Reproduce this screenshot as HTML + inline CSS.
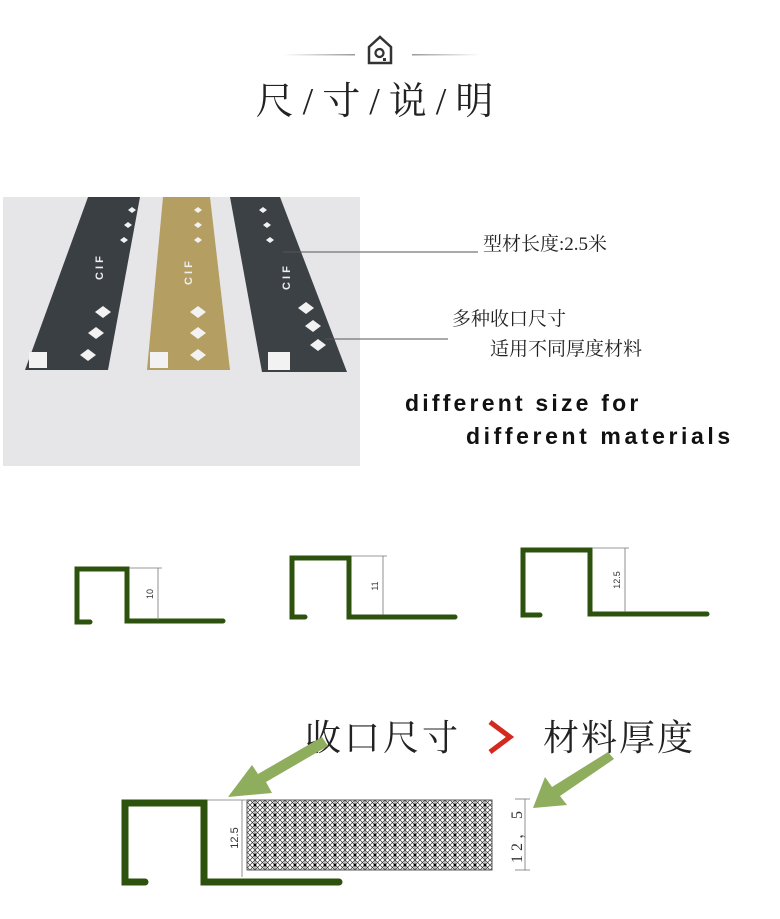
<!DOCTYPE html>
<html><head><meta charset="utf-8"><style>
body{margin:0;background:#fff;width:780px;height:919px;overflow:hidden}
svg{display:block}
.s{font-family:"Liberation Serif","Noto Serif CJK SC",serif}
</style></head><body>
<svg width="780" height="919" viewBox="0 0 780 919" xmlns="http://www.w3.org/2000/svg">
<defs>
<pattern id="hx" width="10" height="10" patternUnits="userSpaceOnUse">
<rect width="10" height="10" fill="#fff"/>
<path d="M0 0L10 10M10 0L0 10M5 0V10M0 5L5 0L10 5L5 10Z" stroke="#333" stroke-width="0.7" fill="none"/>
<circle cx="5" cy="5" r="1.4" fill="#000"/>
</pattern>
<linearGradient id="lg" x1="0" x2="1"><stop offset="0" stop-color="#fff"/><stop offset="1" stop-color="#999"/></linearGradient>
<linearGradient id="rg" x1="0" x2="1"><stop offset="0" stop-color="#999"/><stop offset="1" stop-color="#fff"/></linearGradient>
</defs>
<!-- header -->
<rect x="283" y="54" width="72" height="1.5" fill="url(#lg)"/>
<rect x="412" y="54" width="68" height="1.5" fill="url(#rg)"/>
<path d="M369 63V47L380 37L391 47V63Z" fill="none" stroke="#333" stroke-width="2.5"/>
<circle cx="379.5" cy="53" r="4" fill="none" stroke="#333" stroke-width="2.3"/>
<rect x="383" y="58" width="3" height="3" fill="#333"/>
<text x="379" y="114" class="s" font-size="38" text-anchor="middle" fill="#222" letter-spacing="9">尺/寸/说/明</text>
<!-- photo -->
<rect x="3" y="197" width="357" height="269" fill="#e6e6e8"/>
<polygon points="88,197 140,197 108,370 25,370" fill="#3a3f44"/>
<polygon points="163,197 210,197 230,370 147,370" fill="#b49e62"/>
<polygon points="230,197 280,197 347,372 262,372" fill="#3c4146"/>
<g fill="#f2f2f2">
<rect x="29" y="352" width="18" height="16"/><rect x="150" y="352" width="18" height="16"/><rect x="268" y="352" width="22" height="18"/>
<path d="M80 355l8-6 8 6-8 6z M88 333l8-6 8 6-8 6z M95 312l8-6 8 6-8 6z M190 355l8-6 8 6-8 6z M190 333l8-6 8 6-8 6z M190 312l8-6 8 6-8 6z M310 345l8-6 8 6-8 6z M305 326l8-6 8 6-8 6z M298 308l8-6 8 6-8 6z"/>
<path d="M120 240l4-3 4 3-4 3z M124 225l4-3 4 3-4 3z M128 210l4-3 4 3-4 3z M194 240l4-3 4 3-4 3z M194 225l4-3 4 3-4 3z M194 210l4-3 4 3-4 3z M266 240l4-3 4 3-4 3z M263 225l4-3 4 3-4 3z M259 210l4-3 4 3-4 3z"/>
</g>
<g fill="#eee" font-family="Liberation Sans,sans-serif" font-weight="bold" font-size="11">
<text transform="translate(103,280) rotate(-90)">C I F</text>
<text transform="translate(192,285) rotate(-90)">C I F</text>
<text transform="translate(290,290) rotate(-90)">C I F</text>
</g>
<line x1="283" y1="252" x2="478" y2="252" stroke="#555" stroke-width="1"/>
<line x1="325" y1="339" x2="448" y2="339" stroke="#555" stroke-width="1"/>
<text x="483" y="250" class="s" font-size="19" fill="#222">型材长度:2.5米</text>
<text x="452" y="325" class="s" font-size="19" fill="#222">多种收口尺寸</text>
<text x="490" y="355" class="s" font-size="19" fill="#222">适用不同厚度材料</text>
<text x="405" y="411" font-family="Liberation Sans,sans-serif" font-weight="bold" font-size="23" letter-spacing="3.2" fill="#111">different size for</text>
<text x="466" y="444" font-family="Liberation Sans,sans-serif" font-weight="bold" font-size="23" letter-spacing="3.6" fill="#111">different materials</text>
<!-- profiles -->
<g fill="none" stroke="#2d520e" stroke-width="5" stroke-linecap="round" stroke-linejoin="miter">
<path d="M90 622H77V569H127V621H223"/>
<path d="M305 617H292V558H349V617H455"/>
<path d="M540 615H523V550H590V614H707"/>
<path d="M145 882H125V803H204V882H339" stroke-width="7"/>
</g>
<g stroke="#777" stroke-width="0.8">
<line x1="129" y1="568" x2="162" y2="568"/><line x1="158" y1="568" x2="158" y2="620"/>
<line x1="351" y1="556" x2="387" y2="556"/><line x1="383" y1="556" x2="383" y2="615"/>
<line x1="592" y1="548" x2="629" y2="548"/><line x1="625" y1="548" x2="625" y2="612"/>
<line x1="207" y1="800" x2="246" y2="800"/><line x1="242" y1="800" x2="242" y2="877"/>
<line x1="515" y1="799" x2="530" y2="799"/><line x1="515" y1="870" x2="530" y2="870"/><line x1="525" y1="799" x2="525" y2="870"/>
</g>
<g font-family="Liberation Sans,sans-serif" font-size="9" fill="#333">
<text transform="translate(153,594) rotate(-90)" text-anchor="middle">10</text>
<text transform="translate(378,586) rotate(-90)" text-anchor="middle">11</text>
<text transform="translate(620,580) rotate(-90)" text-anchor="middle">12.5</text>
<text transform="translate(238,838) rotate(-90)" text-anchor="middle" font-size="11">12.5</text>
</g>
<text transform="translate(522,835) rotate(-90)" text-anchor="middle" class="s" font-size="16" fill="#333" letter-spacing="4">12，5</text>
<rect x="247" y="800" width="245" height="70" fill="url(#hx)" stroke="#555" stroke-width="1"/>
<!-- bottom titles -->
<text x="305" y="750" class="s" font-size="36" fill="#222" letter-spacing="3">收口尺寸</text>
<path d="M490 722L510 737L490 752" fill="none" stroke="#d42a1e" stroke-width="5"/>
<text x="543" y="750" class="s" font-size="36" fill="#222" letter-spacing="2">材料厚度</text>
<!-- green arrows -->
<g fill="#8ead5d">
<polygon points="322,737 328,746 266,782 272,793 228,797 252,765 258,774"/>
<polygon points="608,752 614,759 560,796 567,805 533,808 545,777 552,787"/>
</g>
</svg>
</body></html>
